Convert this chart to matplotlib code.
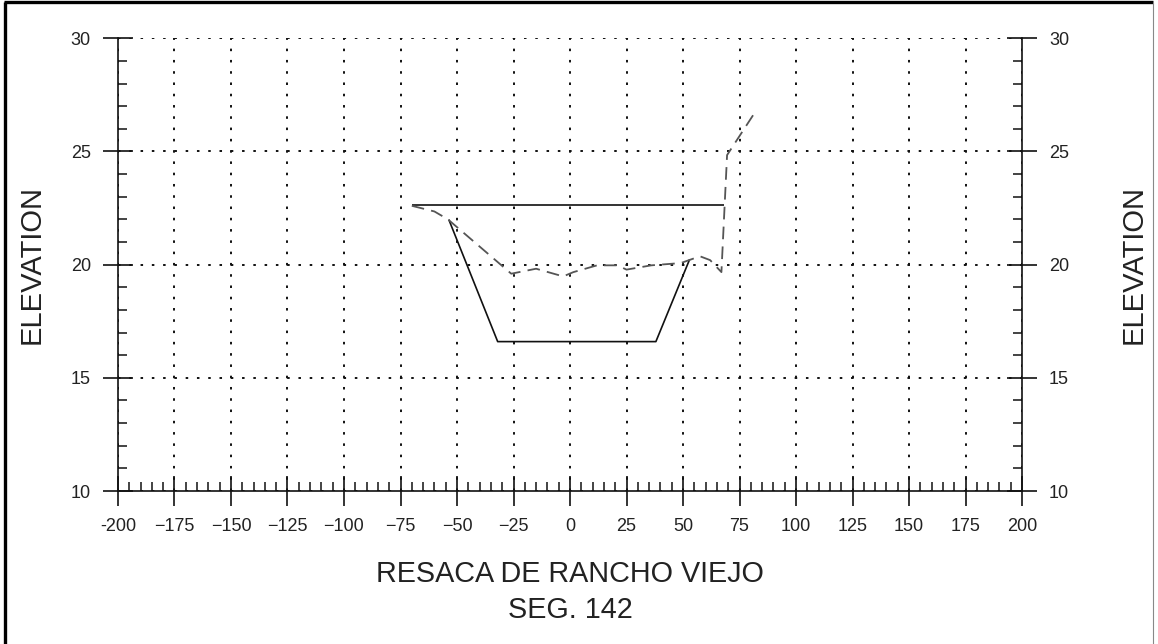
import matplotlib
matplotlib.use("Agg")
import matplotlib.pyplot as plt
from matplotlib.ticker import MultipleLocator, FixedLocator
from matplotlib.lines import Line2D

plt.rcParams['font.family'] = ['Liberation Sans', 'DejaVu Sans']

# Cross-section data: station (ft) vs elevation (ft)
existing_x = [-70, -60, -54, -26, -15, -3, 1.5, 12, 21, 25, 36, 49, 57.5, 62, 67, 69.5, 82.5]
existing_y = [22.6, 22.35, 22.0, 19.6, 19.82, 19.48, 19.67, 19.97, 19.97, 19.78, 19.97,
              20.07, 20.37, 20.2, 19.67, 24.84, 26.83]

design_x = [-53.5, -32, 38, 52.8]
design_y = [21.96, 16.6, 16.6, 20.2]

water_x = [-70, 68.3]
water_y = [22.62, 22.62]

x_ticks = [-200, -175, -150, -125, -100, -75, -50, -25, 0, 25, 50, 75, 100, 125, 150, 175, 200]
x_tick_labels = ['-200', '\u2212175', '\u2212150', '\u2212125', '\u2212100', '\u221275', '\u221250',
                 '\u221225', '0', '25', '50', '75', '100', '125', '150', '175', '200']
y_ticks = [10, 15, 20, 25, 30]
y_tick_labels = ['10', '15', '20', '25', '30']

title_line1 = 'RESACA DE RANCHO VIEJO'
title_line2 = 'SEG. 142'
y_label = 'ELEVATION'

W, H = 1158, 644
fig = plt.figure(figsize=(W / 100, H / 100), dpi=100)
ax = fig.add_axes([118 / W, 1 - 491 / H, (1022 - 118) / W, (491 - 38.3) / H])

ax.plot(water_x, water_y, color='#111111', lw=1.2, solid_capstyle='butt')
ax.plot(design_x, design_y, color='#111111', lw=1.2)
ax.plot(existing_x, existing_y, color='#555555', lw=1.3, linestyle=(0, (7, 4)))

ax.set_xlim(-200, 200)
ax.set_ylim(10, 30)

ax.xaxis.set_major_locator(FixedLocator(x_ticks))
ax.set_xticklabels(x_tick_labels)
ax.yaxis.set_major_locator(FixedLocator(y_ticks))
ax.set_yticklabels(y_tick_labels)
ax.xaxis.set_minor_locator(MultipleLocator(5))
ax.yaxis.set_minor_locator(MultipleLocator(1))

ax.spines['top'].set_visible(False)
for s in ('left', 'right', 'bottom'):
    ax.spines[s].set_linewidth(1.2)
    ax.spines[s].set_color('#111111')

ax.xaxis.set_ticks_position('bottom')
ax.yaxis.set_ticks_position('both')
ax.tick_params(axis='y', labelleft=True, labelright=True)
ax.tick_params(which='major', direction='inout', length=21, width=1.2, color='#111111',
               labelsize=13, labelcolor='#222222', pad=9)
ax.tick_params(which='minor', direction='in', length=6.5, width=1.1, color='#111111')

ax.grid(True, which='major', color='#111111', linestyle=(0, (1.3, 4.5)), linewidth=1.4)
ax.set_axisbelow(True)

fig.text(570 / W, 1 - 582 / H, title_line1, ha='center', va='baseline',
         fontsize=20.7, color='#222222')
fig.text(570 / W, 1 - 618.3 / H, title_line2, ha='center', va='baseline',
         fontsize=20.7, color='#222222')
fig.text(39.5 / W, 1 - 264.5 / H, y_label, rotation=90, rotation_mode='anchor',
         ha='center', va='baseline', fontsize=21, color='#222222')
fig.text(1141.5 / W, 1 - 264.5 / H, y_label, rotation=90, rotation_mode='anchor',
         ha='center', va='baseline', fontsize=21, color='#222222')

# Sheet border
fig.add_artist(Line2D([5 / W, 5 / W], [0, 1 - 2 / H], transform=fig.transFigure,
                      color='black', lw=2.4, solid_capstyle='butt'))
fig.add_artist(Line2D([3.5 / W, 1153 / W], [1 - 2 / H, 1 - 2 / H], transform=fig.transFigure,
                      color='black', lw=2.4, solid_capstyle='butt'))
fig.add_artist(Line2D([1153 / W, 1153 / W], [0, 1 - 2 / H], transform=fig.transFigure,
                      color='#888888', lw=0.8, solid_capstyle='butt'))

fig.savefig('out.png', dpi=100)
